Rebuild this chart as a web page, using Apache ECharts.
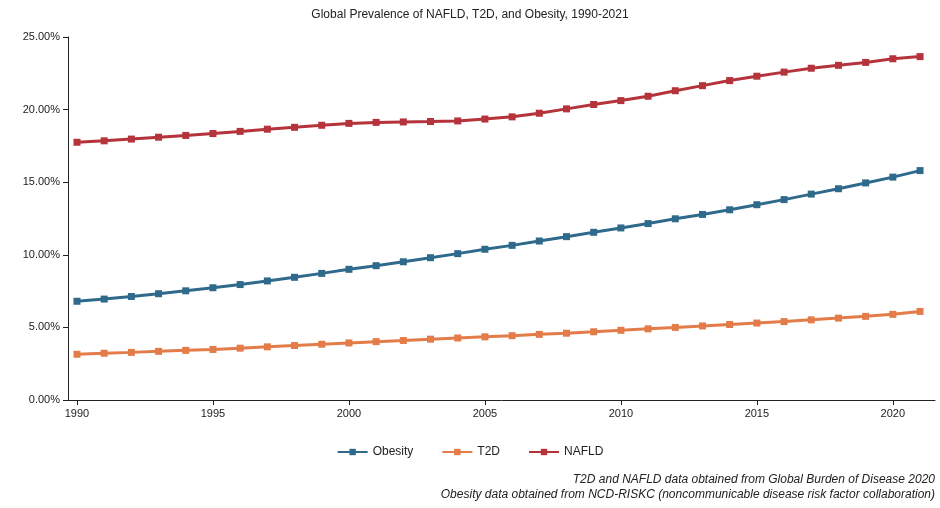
<!DOCTYPE html>
<html>
<head>
<meta charset="utf-8">
<script src="https://cdn.jsdelivr.net/npm/echarts@6/dist/echarts.min.js"></script>
<style>html,body{margin:0;padding:0;background:#fff}#chart{width:940px;height:508px}</style>
</head>
<body>
<div id="chart"></div>
<script>
const years = []
for (let y = 1990; y <= 2021; y++) years.push(y)
const yearTicks = [1990, 1995, 2000, 2005, 2010, 2015, 2020]

const obesity = [6.8, 6.95, 7.13, 7.32, 7.52, 7.73, 7.95, 8.2, 8.45, 8.72, 9.0, 9.25, 9.52, 9.8, 10.08, 10.38,
  10.65, 10.95, 11.25, 11.55, 11.85, 12.15, 12.48, 12.78, 13.1, 13.45, 13.8, 14.18, 14.55, 14.95, 15.35, 15.8]
const t2d = [3.15, 3.22, 3.28, 3.35, 3.42, 3.48, 3.57, 3.66, 3.75, 3.84, 3.93, 4.02, 4.1, 4.19, 4.27, 4.35,
  4.43, 4.52, 4.6, 4.7, 4.8, 4.9, 5.0, 5.1, 5.2, 5.3, 5.4, 5.52, 5.64, 5.76, 5.9, 6.1]
const nafld = [17.75, 17.85, 17.97, 18.1, 18.22, 18.35, 18.5, 18.65, 18.78, 18.92, 19.05, 19.12, 19.15, 19.18, 19.22, 19.35,
  19.5, 19.75, 20.05, 20.35, 20.62, 20.92, 21.3, 21.65, 22.0, 22.3, 22.58, 22.85, 23.05, 23.25, 23.5, 23.65]

const font = 'Liberation Sans'
const chart = echarts.init(document.getElementById('chart'))

function line(name, data, color) {
  return {
    name: name,
    type: 'line',
    data: years.map((y, i) => [y, data[i]]),
    symbol: 'rect',
    symbolSize: 7,
    lineStyle: { width: 3, color: color },
    itemStyle: { color: color }
  }
}

chart.setOption({
  animation: false,
  textStyle: { fontFamily: font },
  title: {
    text: 'Global Prevalence of NAFLD, T2D, and Obesity, 1990-2021',
    left: 'center', top: 4,
    textStyle: { fontSize: 12, fontWeight: 'normal', color: '#222' }
  },
  legend: {
    bottom: 45, left: 'center', itemWidth: 30, itemHeight: 8, itemGap: 28,
    textStyle: { fontSize: 12, color: '#222' },
    data: ['Obesity', 'T2D', 'NAFLD']
  },
  graphic: [
    { type: 'text', right: 5, top: 474, style: { text: 'T2D and NAFLD data obtained from Global Burden of Disease 2020', font: 'italic 12px Liberation Sans', fill: '#222' } },
    { type: 'text', right: 5, top: 489, style: { text: 'Obesity data obtained from NCD-RISKC (noncommunicable disease risk factor collaboration)', font: 'italic 12px Liberation Sans', fill: '#222' } }
  ],
  grid: { left: 68, right: 5, top: 37, bottom: 108 },
  xAxis: {
    type: 'value', min: 1989.67, max: 2021.55,
    axisLine: { lineStyle: { color: '#222' } },
    axisTick: { customValues: yearTicks, lineStyle: { color: '#222' } },
    axisLabel: { customValues: yearTicks, color: '#222', fontSize: 11, formatter: v => String(v) },
    splitLine: { show: false }
  },
  yAxis: {
    type: 'value', min: 0, max: 25, interval: 5,
    axisLine: { show: true, lineStyle: { color: '#222' } },
    axisTick: { show: true, lineStyle: { color: '#222' } },
    axisLabel: { color: '#222', fontSize: 11, formatter: v => v.toFixed(2) + '%' },
    splitLine: { show: false }
  },
  series: [
    line('Obesity', obesity, '#2f6a8d'),
    line('T2D', t2d, '#e37c48'),
    line('NAFLD', nafld, '#b5333b')
  ]
})
</script>
</body>
</html>
